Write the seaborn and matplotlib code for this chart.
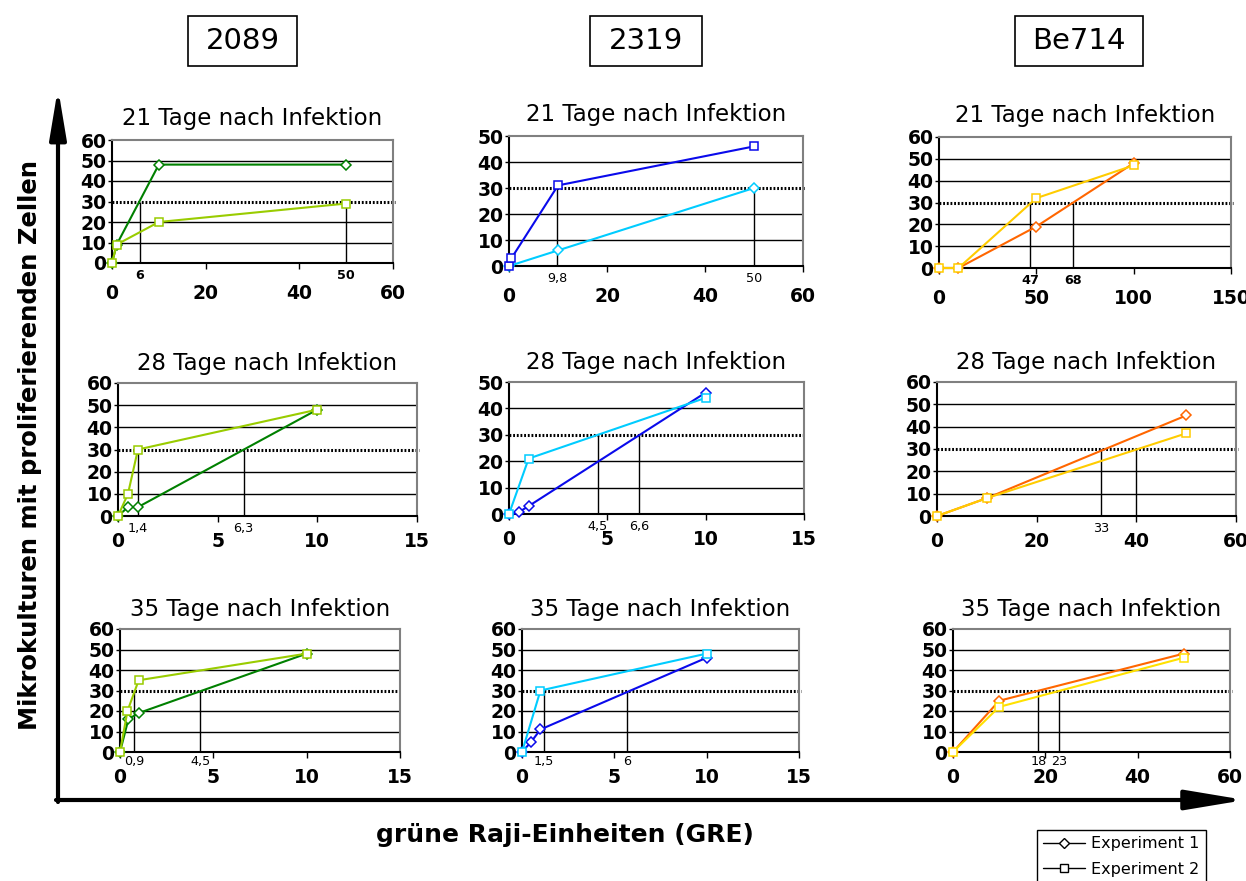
import matplotlib
matplotlib.use("Agg")
import matplotlib.pyplot as plt
import seaborn as sns
from matplotlib.lines import Line2D
from matplotlib.patches import Rectangle, FancyArrowPatch

# ---- data (x: GRE, y: micro cultures) ----
# 2089
x_2089_21_e1 = [0, 1, 10, 50]
y_2089_21_e1 = [0, 9, 48, 48]
x_2089_21_e2 = [0, 1, 10, 50]
y_2089_21_e2 = [0, 9, 20, 29]
x_2089_28_e1 = [0, 0.5, 1, 10]
y_2089_28_e1 = [0, 4, 4, 48]
x_2089_28_e2 = [0, 0.5, 1, 10]
y_2089_28_e2 = [0, 10, 30, 48]
x_2089_35_e1 = [0, 0.45, 1, 10]
y_2089_35_e1 = [0, 16, 19, 48]
x_2089_35_e2 = [0, 0.4, 1, 10]
y_2089_35_e2 = [0, 20, 35, 48]
# 2319
x_2319_21_e1 = [0, 10, 50]
y_2319_21_e1 = [0, 6, 30]
x_2319_21_e2 = [0, 0.5, 10, 50]
y_2319_21_e2 = [0, 3, 31, 46]
x_2319_28_e1 = [0, 0.5, 1, 10]
y_2319_28_e1 = [0, 0.7, 3, 46]
x_2319_28_e2 = [0, 1, 10]
y_2319_28_e2 = [0, 21, 44]
x_2319_35_e1 = [0, 0.5, 1, 10]
y_2319_35_e1 = [0, 5, 11, 46]
x_2319_35_e2 = [0, 1, 10]
y_2319_35_e2 = [0, 30, 48]
# Be714
x_be714_21_e1 = [0, 10, 50, 100]
y_be714_21_e1 = [0, 0, 19, 48]
x_be714_21_e2 = [0, 10, 50, 100]
y_be714_21_e2 = [0, 0, 32, 47]
x_be714_28_e1 = [0, 10, 50]
y_be714_28_e1 = [0, 8, 45]
x_be714_28_e2 = [0, 10, 50]
y_be714_28_e2 = [0, 8, 37]
x_be714_35_e1 = [0, 10, 50]
y_be714_35_e1 = [0, 25, 48]
x_be714_35_e2 = [0, 10, 50]
y_be714_35_e2 = [0, 22, 46]

# 30-cultures threshold: where drawn, and what is written under it
thr_pos = [[6, 50], [9.8, 50], [47, 69],
           [1.0, 6.3], [4.5, 6.6], [33, 40],
           [0.75, 4.3], [1.2, 5.7], [18.5, 23]]
thr_lab = [["6", "50"], ["9,8", "50"], ["47", "68"],
           ["1,4", "6,3"], ["4,5", "6,6"], ["33", ""],
           ["0,9", "4,5"], ["1,5", "6"], ["18", "23"]]

strains = ["2089", "2319", "Be714"]
days = ["21", "28", "35"]
x_max = [[60, 60, 150], [15, 15, 60], [15, 15, 60]]
x_step = [[20, 20, 50], [5, 5, 20], [5, 5, 20]]
y_max = [[60, 50, 60], [60, 50, 60], [60, 60, 60]]

green_dk, green_lt = "#008000", "#99cc00"
blue_dk, cyan = "#0a0aeb", "#00ccff"
orange, gold = "#ff6600", "#ffcc00"

W, H = 1246, 881
sns.set_style("white")
plt.rcParams["font.family"] = ["DejaVu Sans"]
plt.rcParams["text.color"] = "black"
plt.rcParams["xtick.color"] = "black"
plt.rcParams["ytick.color"] = "black"
plt.rcParams["axes.titlecolor"] = "black"

fig = plt.figure(figsize=(W / 100, H / 100), dpi=100)


def px_axes(l, r, t, b):
    return fig.add_axes([l / W, 1 - b / H, (r - l) / W, (b - t) / H])


boxes = [[(112, 393, 140, 263), (509, 803, 136, 266), (939, 1231, 137, 268)],
         [(118, 417, 383, 516), (509, 804, 382, 514), (937, 1236, 382, 516)],
         [(120, 400, 629, 752), (522, 799, 629, 752), (953, 1230, 629, 752)]]

series = {
    (0, 0): (x_2089_21_e1, y_2089_21_e1, green_dk, x_2089_21_e2, y_2089_21_e2, green_lt),
    (1, 0): (x_2089_28_e1, y_2089_28_e1, green_dk, x_2089_28_e2, y_2089_28_e2, green_lt),
    (2, 0): (x_2089_35_e1, y_2089_35_e1, green_dk, x_2089_35_e2, y_2089_35_e2, green_lt),
    (0, 1): (x_2319_21_e1, y_2319_21_e1, cyan, x_2319_21_e2, y_2319_21_e2, blue_dk),
    (1, 1): (x_2319_28_e1, y_2319_28_e1, blue_dk, x_2319_28_e2, y_2319_28_e2, cyan),
    (2, 1): (x_2319_35_e1, y_2319_35_e1, blue_dk, x_2319_35_e2, y_2319_35_e2, cyan),
    (0, 2): (x_be714_21_e1, y_be714_21_e1, orange, x_be714_21_e2, y_be714_21_e2, gold),
    (1, 2): (x_be714_28_e1, y_be714_28_e1, orange, x_be714_28_e2, y_be714_28_e2, gold),
    (2, 2): (x_be714_35_e1, y_be714_35_e1, orange, x_be714_35_e2, y_be714_35_e2, "#ffe100"),
}

for r in range(3):
    for c in range(3):
        ax = px_axes(*boxes[r][c])
        x1, y1, c1, x2, y2, c2 = series[(r, c)]
        ym = y_max[r][c]
        yt = list(range(0, ym + 1, 10))
        for yy in yt:
            if yy not in (0, 30, ym):
                ax.axhline(yy, color="black", lw=1.0, zorder=1)
        ax.axhline(30, xmax=1.008, color="black", lw=2.2, ls=(0, (0.6, 0.6)),
                   zorder=2, clip_on=False)
        ax.vlines(thr_pos[3 * r + c], 0, 30, color="black", lw=1.0, zorder=2)
        for t, lab in zip(thr_pos[3 * r + c], thr_lab[3 * r + c]):
            ax.annotate(lab, xy=(t, 0), xycoords=("data", "axes fraction"),
                        xytext=(0, -2.5 if r == 2 else -4),
                        textcoords="offset points",
                        ha="center", va="top", fontsize=9.2,
                        fontweight="bold" if (r == 0 and c != 1) else "normal")
        sns.lineplot(x=x1, y=y1, ax=ax, color=c1, lw=1.5, marker="D",
                     markersize=5.2, markerfacecolor="white", markeredgecolor=c1,
                     markeredgewidth=1.1, estimator=None, sort=False,
                     clip_on=False, zorder=5)
        sns.lineplot(x=x2, y=y2, ax=ax, color=c2, lw=1.5, marker="s",
                     markersize=5.8, markerfacecolor="white", markeredgecolor=c2,
                     markeredgewidth=1.1, estimator=None, sort=False,
                     clip_on=False, zorder=6)
        ax.set_xlim(0, x_max[r][c])
        ax.set_ylim(0, ym)
        ax.set_xticks(range(0, x_max[r][c] + 1, x_step[r][c]))
        ax.set_yticks(yt)
        ax.tick_params(axis="x", direction="out", length=4, width=1,
                       pad=11 if r == 0 else 7.5, labelsize=13.5, bottom=True)
        ax.tick_params(axis="y", direction="out", length=3, width=1,
                       pad=1, labelsize=13.5, left=True)
        for lab in ax.get_xticklabels() + ax.get_yticklabels():
            lab.set_fontweight("bold")
        for s in ("left", "bottom"):
            ax.spines[s].set_color("black")
            ax.spines[s].set_linewidth(1.5)
        for s in ("top", "right"):
            ax.spines[s].set_color("#808080")
            ax.spines[s].set_linewidth(1.5)
        ax.set_title(days[r] + " Tage nach Infektion", fontsize=16.5,
                     pad=11 if r == 0 else 9.5)
        if ax.get_legend():
            ax.get_legend().remove()

# strain header boxes
for name, (l, rr) in zip(strains, [(188, 297), (590, 702), (1015, 1143)]):
    fig.add_artist(Rectangle((l / W, 1 - 66 / H), (rr - l) / W, 50 / H,
                             transform=fig.transFigure, fill=False,
                             ec="black", lw=1.2))
    fig.text((l + rr) / 2 / W, 1 - 41 / H, name, ha="center", va="center",
             fontsize=21)

# big axis arrows
fig.add_artist(FancyArrowPatch((58 / W, 1 - 802 / H), (58 / W, 1 - 88 / H),
                               transform=fig.transFigure,
                               arrowstyle="-|>,head_length=30,head_width=5",
                               lw=3, color="black", shrinkA=0, shrinkB=0))
fig.add_artist(FancyArrowPatch((56 / W, 1 - 800 / H), (1245 / W, 1 - 800 / H),
                               transform=fig.transFigure,
                               arrowstyle="-|>,head_length=36,head_width=6",
                               lw=3, color="black", shrinkA=0, shrinkB=0))

fig.text(30 / W, 1 - 445 / H, "Mikrokulturen mit proliferierenden Zellen",
         rotation=90, ha="center", va="center", fontsize=17.5,
         fontweight="bold")
fig.text(565 / W, 1 - 835 / H, "grüne Raji-Einheiten (GRE)", ha="center",
         va="center", fontsize=18, fontweight="bold")

handles = [Line2D([], [], color="black", lw=1, marker="D", markersize=5,
                  markerfacecolor="white", markeredgecolor="black"),
           Line2D([], [], color="black", lw=1, marker="s", markersize=5.5,
                  markerfacecolor="white", markeredgecolor="black")]
leg = fig.legend(handles, ["Experiment 1", "Experiment 2"], loc="upper left",
                 bbox_to_anchor=(1037 / W, 1 - 830 / H), fontsize=11.5,
                 frameon=True, fancybox=False, edgecolor="black",
                 framealpha=1, borderpad=0.4, handlelength=2.6,
                 handletextpad=0.4, labelspacing=0.65, borderaxespad=0)
leg.get_frame().set_linewidth(1)

plt.savefig("out.png", dpi=100)
